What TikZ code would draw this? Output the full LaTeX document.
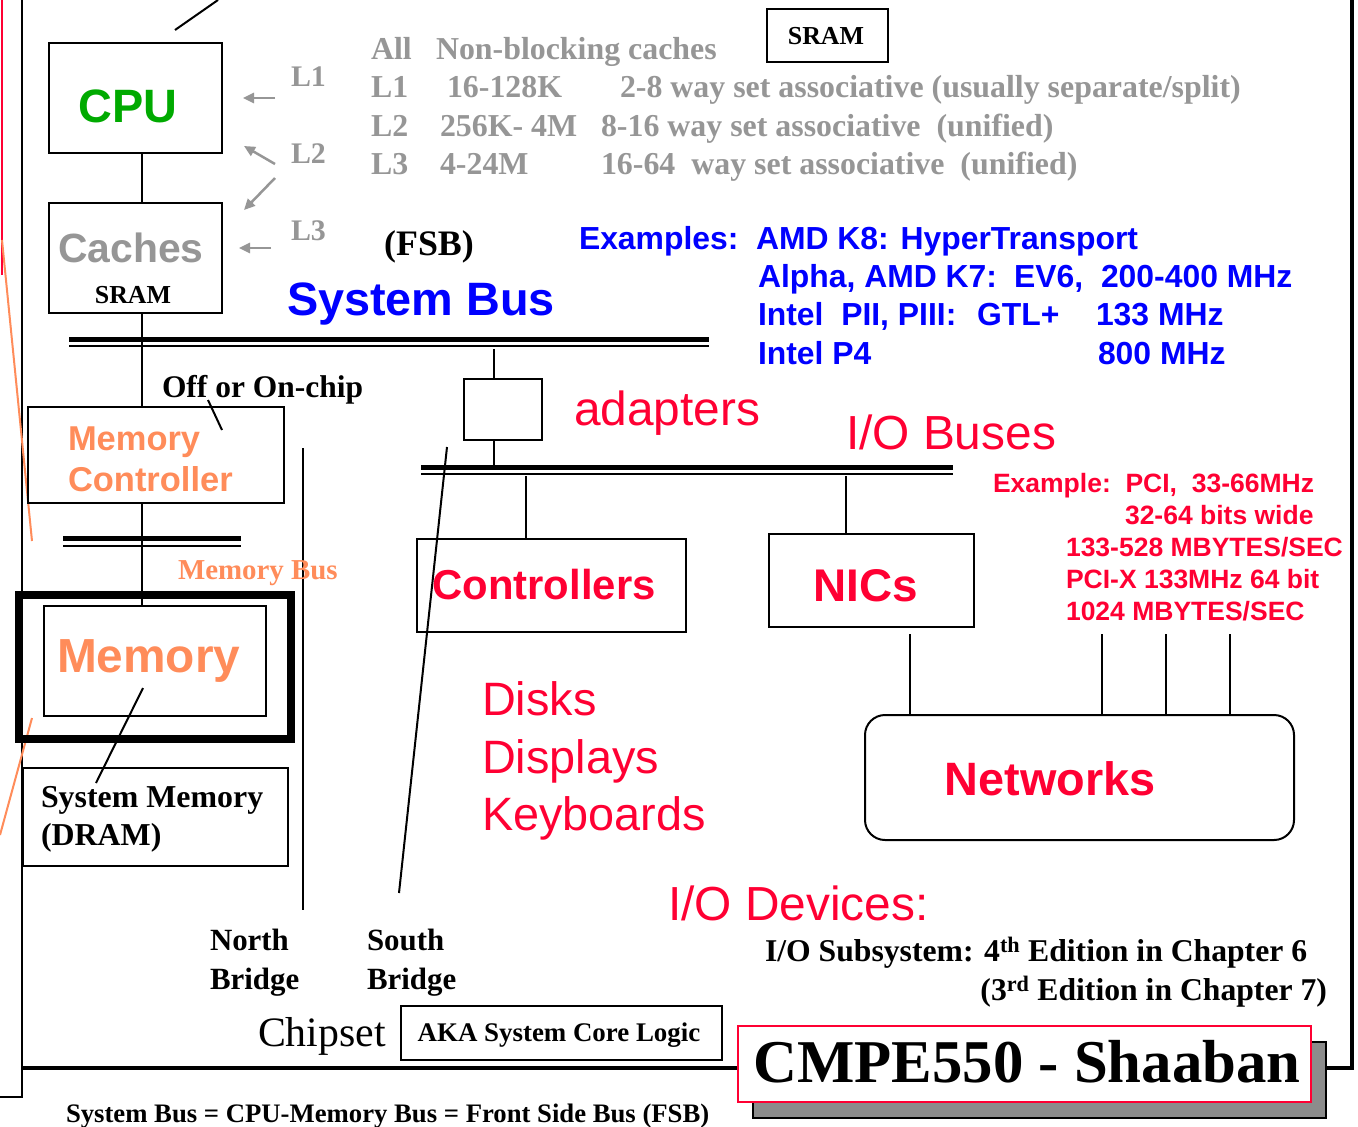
\documentclass[tikz,border=0pt]{standalone}
\usepackage{fontspec}
\setmainfont{Liberation Serif}
\newfontfamily\arial{Liberation Sans}
\usetikzlibrary{arrows.meta}
\definecolor{cgray}{RGB}{150,150,150}
\definecolor{corange}{RGB}{255,140,90}
\definecolor{cred}{RGB}{255,0,51}
\definecolor{cgreen}{RGB}{0,170,0}
\definecolor{cblue}{RGB}{0,0,255}
\definecolor{cshadow}{RGB}{140,140,140}
\newcommand\fsz[1]{\fontsize{#1}{#1}\selectfont}
\begin{document}
\begin{tikzpicture}[x=1bp,y=-1bp,
  txt/.style={inner sep=0pt, outer sep=0pt},
  box/.style={draw, line width=2bp, inner sep=0pt, anchor=north west},
  wire/.style={line width=2bp},
  thinbus/.style={line width=1.5bp},
  thickbus/.style={line width=5bp},
  garrow/.style={draw=cgray, line width=2.5bp, -{Triangle[length=11bp,width=10bp]}},
  serifb/.style={txt, font=\bfseries},
  sansb/.style={txt, font=\arial\bfseries},
  sansr/.style={txt, font=\arial},
]
\useasboundingbox (0,0) rectangle (1358,1126);
\fill[white] (0,0) rectangle (1358,1126);

% frame
\coordinate (ftop) at (22,0);
\coordinate (fbot) at (22,1097);
\coordinate (fend) at (0,1097);
\draw[line width=2bp] (ftop) -- (fbot) -- (fend);
\coordinate (bl) at (22,1068);
\coordinate (br) at (1352,1068);
\coordinate (rt) at (1352,0);
\draw[line width=4bp] (bl) -- (br) -- (rt);

% left coloured lines
\coordinate (r1) at (2,0);
\coordinate (r2) at (2,275);
\coordinate (o1) at (2,240);
\coordinate (o2) at (32,541);
\coordinate (o3) at (32,718);
\coordinate (o4) at (0,835);
\draw[cred, line width=2bp] (r1) -- (r2);
\draw[corange, line width=2bp] (o1) -- (o2);
\draw[corange, line width=2bp] (o3) -- (o4);

% top diagonal
\coordinate (d1) at (175,30);
\coordinate (d2) at (218,0);
\draw[wire] (d1) -- (d2);

% boxes
\node[box, minimum width=173bp, minimum height=110bp] (cpu) at (48,42) {};
\node[box, minimum width=173bp, minimum height=110bp] (cache) at (48,202) {};
\node[box, minimum width=121bp, minimum height=53bp] (sramtop) at (766,8) {};
\node[box, minimum width=256bp, minimum height=96bp] (memctl) at (27,406) {};
\node[box, line width=8bp, minimum width=272bp, minimum height=144bp] (memouter) at (15,591) {};
\node[box, minimum width=222bp, minimum height=110bp] (mem) at (43,605) {};
\node[box, minimum width=265bp, minimum height=98bp] (sysmem) at (22,767) {};
\node[box, minimum width=78bp, minimum height=61bp] (adapter) at (463,378) {};
\node[box, minimum width=269bp, minimum height=93bp] (ctrl) at (416,538) {};
\node[box, minimum width=205bp, minimum height=93bp] (nic) at (768,533) {};
\node[box, rounded corners=20bp, minimum width=429bp, minimum height=125bp] (net) at (864,714) {};
\node[box, minimum width=321bp, minimum height=54bp] (aka) at (400,1005) {};

% buses
\coordinate (sbL) at (69,343);
\coordinate (sbR) at (709,343);
\draw[thinbus] ([yshift=-3bp]sbL) -- ([yshift=-3bp]sbR);
\draw[thickbus] ([yshift=3.5bp]sbL) -- ([yshift=3.5bp]sbR);
\coordinate (mbL) at (63,542);
\coordinate (mbR) at (241,542);
\draw[thinbus] ([yshift=-4bp]mbL) -- ([yshift=-4bp]mbR);
\draw[thickbus] ([yshift=3.5bp]mbL) -- ([yshift=3.5bp]mbR);
\coordinate (ioL) at (421,471);
\coordinate (ioR) at (953,471);
\draw[thinbus] ([yshift=-3bp]ioL) -- ([yshift=-3bp]ioR);
\draw[thickbus] ([yshift=3.5bp]ioL) -- ([yshift=3.5bp]ioR);

% vertical connections
\coordinate (vx) at (142,0);
\draw[wire] (cpu.south -| vx) -- (cache.north -| vx);
\draw[wire] (cache.south -| vx) -- (memctl.north -| vx);
\draw[wire] (memctl.south -| vx) -- (mem.north -| vx);
\coordinate (sbtap) at (494,349);
\coordinate (iotap) at (494,468);
\draw[wire] (sbtap) -- (adapter.north -| sbtap);
\draw[wire] (adapter.south -| iotap) -- (iotap);
\coordinate (ctap) at (526,476);
\coordinate (ntap) at (846,476);
\draw[wire] (ctap) -- (ctrl.north -| ctap);
\draw[wire] (ntap) -- (nic.north -| ntap);
\foreach \xx/\nm in {910/a,1102/b,1166/c,1230/d}{
  \coordinate (nt\nm) at (\xx,634);
  \draw[wire] (nt\nm) -- (net.north -| nt\nm);
}
% bridges
\coordinate (nb1) at (303,448);
\coordinate (nb2) at (303,910);
\draw[wire] (nb1) -- (nb2);
\coordinate (sb1) at (447,447);
\coordinate (sb2) at (399,893);
\draw[wire] (sb1) -- (sb2);
% pointers
\coordinate (p1) at (208,400);
\coordinate (p2) at (222,430);
\draw[wire] (p1) -- (p2);
\coordinate (p3) at (143,688);
\coordinate (p4) at (96,783);
\draw[wire] (p3) -- (p4);

% grey arrows
\coordinate (a1s) at (275,98);  \coordinate (a1e) at (243,98);
\coordinate (a2s) at (275,164); \coordinate (a2e) at (244,146);
\coordinate (a3s) at (275,178); \coordinate (a3e) at (244,210);
\coordinate (a4s) at (271,248); \coordinate (a4e) at (239,248);
\draw[garrow] (a1s) -- (a1e);
\draw[garrow] (a2s) -- (a2e);
\draw[garrow] (a3s) -- (a3e);
\draw[garrow] (a4s) -- (a4e);

% texts in boxes
\node[sansb, text=cgreen, font=\arial\bfseries\fsz{47}, anchor=base] (tcpu) at (128,122) {CPU};
\node[sansb, text=cgray, font=\arial\bfseries\fsz{41}, anchor=base] (tcache) at (131,262) {Caches};
\node[serifb, font=\bfseries\fsz{26}, anchor=base] (tsram) at (133,303) {SRAM};
\node[serifb, font=\bfseries\fsz{26}, anchor=base] (tsramtop) at (826,44) {SRAM};
\node[sansb, text=corange, font=\arial\bfseries\fsz{34.6}, anchor=base west] (tmc1) at (68,450) {Memory};
\node[sansb, text=corange, font=\arial\bfseries\fsz{34.6}, anchor=base west] (tmc2) at (68,491) {Controller};
\node[sansb, text=corange, font=\arial\bfseries\fsz{48}, anchor=base west] (tmem) at (57,672) {Memory};
\node[serifb, font=\bfseries\fsz{32}, anchor=base west] (tsm1) at (41,807) {System Memory};
\node[serifb, font=\bfseries\fsz{32}, anchor=base west] (tsm2) at (41,845) {(DRAM)};
\node[sansb, text=cred, font=\arial\bfseries\fsz{42}, anchor=base] (tctrl) at (544,599) {Controllers};
\node[sansb, text=cred, font=\arial\bfseries\fsz{46}, anchor=base] (tnic) at (866,601) {NICs};
\node[sansb, text=cred, font=\arial\bfseries\fsz{47}, anchor=base] (tnet) at (1050,795) {Networks};
\node[serifb, font=\bfseries\fsz{27}, anchor=base] (taka) at (559,1041) {AKA System Core Logic};

% L labels
\node[serifb, text=cgray, font=\bfseries\fsz{30}, anchor=base west] (l1) at (291,86) {L1};
\node[serifb, text=cgray, font=\bfseries\fsz{30}, anchor=base west] (l2) at (291,163) {L2};
\node[serifb, text=cgray, font=\bfseries\fsz{30}, anchor=base west] (l3) at (291,240) {L3};

% grey table
\begin{scope}[every node/.style={serifb, text=cgray, font=\bfseries\fsz{32}, anchor=base west}]
\node (g11) at (371,59) {All};
\node (g12) at (436,59) {Non-blocking caches};
\node (g21) at (371,97) {L1};
\node (g22) at (447,97) {16-128K};
\node (g23) at (620,97) {2-8 way set associative (usually separate/split)};
\node (g31) at (371,136) {L2};
\node (g32) at (440,136) {256K- 4M};
\node (g33) at (601,136) {8-16 way set associative\ \ (unified)};
\node (g41) at (371,174) {L3};
\node (g42) at (440,174) {4-24M};
\node (g43) at (601,174) {16-64\ \ way set associative\ \ (unified)};
\end{scope}

% system bus labels
\node[serifb, font=\bfseries\fsz{36}, anchor=base] (tfsb) at (429,255) {(FSB)};
\node[sansb, text=cblue, font=\arial\bfseries\fsz{47}, anchor=base west] (tsysbus) at (287,315) {System Bus};
\begin{scope}[every node/.style={sansb, text=cblue, font=\arial\bfseries\fsz{32}, anchor=base west}]
\node (e1) at (579,249) {Examples:};
\node (e2) at (756,249) {AMD K8: HyperTransport};
\node (e3) at (758,287) {Alpha, AMD K7:};
\node (e4) at (1014,287) {EV6,};
\node (e5) at (1101,287) {200-400 MHz};
\node (e6) at (758,325) {Intel\ \ PII, PIII:};
\node (e7) at (977,325) {GTL+};
\node (e8) at (1096,325) {133 MHz};
\node (e9) at (758,364) {Intel P4};
\node (e10) at (1098,364) {800 MHz};
\end{scope}

% IO labels
\node[sansr, text=cred, font=\arial\fsz{48}, anchor=base west] (tadapt) at (574,425) {adapters};
\node[sansr, text=cred, font=\arial\fsz{48}, anchor=base west] (tiobus) at (846,449) {I/O Buses};
\begin{scope}[every node/.style={sansb, text=cred, font=\arial\bfseries\fsz{26.6}, anchor=base west}]
\node (x1) at (993,492) {Example:\ \ PCI,\ \ 33-66MHz};
\node (x2) at (1125,524) {32-64 bits wide};
\node (x3) at (1066,556) {133-528 MBYTES/SEC};
\node (x4) at (1066,588) {PCI-X 133MHz 64 bit};
\node (x5) at (1066,620) {1024 MBYTES/SEC};
\end{scope}
\node[serifb, font=\bfseries\fsz{31.6}, anchor=base west] (toff) at (162,397) {Off or On-chip};
\node[serifb, text=corange, font=\bfseries\fsz{29}, anchor=base west] (tmbus) at (178,579) {Memory Bus};
\begin{scope}[every node/.style={sansr, text=cred, font=\arial\fsz{47}, anchor=base west}]
\node (dv1) at (482,715) {Disks};
\node (dv2) at (482,773) {Displays};
\node (dv3) at (482,830) {Keyboards};
\end{scope}
\node[sansr, text=cred, font=\arial\fsz{48}, anchor=base west] (tiodev) at (668,920) {I/O Devices:};

% bridges text
\node[serifb, font=\bfseries\fsz{31}, anchor=base west] (nb) at (210,950) {North};
\node[serifb, font=\bfseries\fsz{31}, anchor=base west] (nbb) at (210,989) {Bridge};
\node[serifb, font=\bfseries\fsz{31}, anchor=base west] (sbt) at (367,950) {South};
\node[serifb, font=\bfseries\fsz{31}, anchor=base west] (sbb) at (367,989) {Bridge};
\node[txt, font=\fsz{42}, anchor=base west] (tchip) at (258,1046) {Chipset};

\node[serifb, font=\bfseries\fsz{31.8}, anchor=base west] (tsub1) at (765,961) {I/O Subsystem: 4\textsuperscript{th} Edition in Chapter 6};
\node[serifb, font=\bfseries\fsz{31.8}, anchor=base east] (tsub2) at (1327,1000) {(3\textsuperscript{rd} Edition in Chapter 7)};

\node[serifb, font=\bfseries\fsz{26.8}, anchor=base west] (tfoot) at (66,1122) {System Bus = CPU-Memory Bus = Front Side Bus (FSB)};

% title box
\node[box, fill=cshadow, minimum width=573bp, minimum height=76bp] (shadow) at (752,1041) {};
\node[box, draw=cred, fill=white, minimum width=573bp, minimum height=76bp] (title) at (737,1025) {};
\node[serifb, font=\bfseries\fsz{61}, anchor=base] (ttitle) at (1027,1082) {CMPE550 - Shaaban};
\end{tikzpicture}
\end{document}
